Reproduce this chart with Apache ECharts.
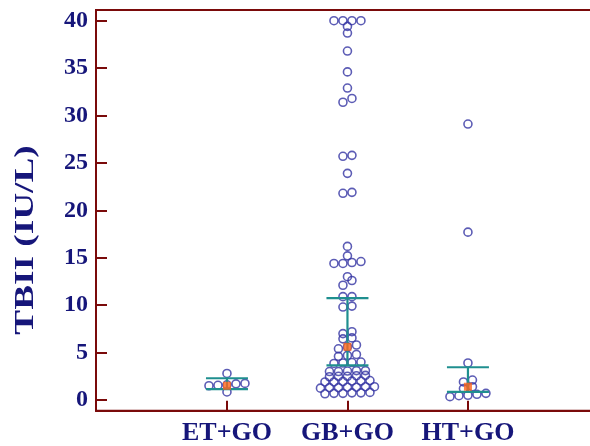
<!DOCTYPE html>
<html>
<head>
<meta charset="utf-8">
<script src="https://cdn.jsdelivr.net/npm/echarts@6/dist/echarts.min.js"></script>
<style>html,body{margin:0;padding:0;background:#fff;}#c{width:590px;height:446px;}</style>
</head>
<body>
<div id="c"></div>
<script>
// ---- data ----
const categories = ['ET+GO', 'GB+GO', 'HT+GO'];
const etValues = [2.8, 1.5, 1.55, 1.6, 1.7, 1.75, 0.85];
const gbValues = [
  0.65, 0.7, 0.7, 0.75, 0.75, 0.8,
  1.25, 1.3, 1.3, 1.35, 1.35, 1.4, 1.4,
  1.9, 1.9, 1.95, 2.0, 2.0, 2.05,
  2.45, 2.5, 2.5, 2.55, 2.6,
  3.0, 3.0, 3.05, 3.1, 3.1,
  3.85, 3.9, 3.95, 4.0,
  4.6, 4.7, 4.8, 5.4, 5.6, 5.8, 6.45, 6.55, 7.0, 7.2,
  9.8, 9.9, 10.9, 10.9, 12.1, 12.6, 13.0,
  14.4, 14.4, 14.5, 14.6, 15.2, 16.2,
  21.8, 21.9, 23.9, 25.7, 25.8,
  31.4, 31.8, 32.9, 34.6, 36.8, 38.7, 39.4,
  40, 40, 40, 40
];
const htValues = [29.1, 17.7, 3.9, 2.1, 1.9, 1.4, 1.2, 0.7, 0.6, 0.5, 0.45, 0.35];
const medians = [1.5, 5.6, 1.4];
const lowerBars = [1.15, 3.65, 0.85];
const upperBars = [2.29, 10.74, 3.45];
const yTicks = [0, 5, 10, 15, 20, 25, 30, 35, 40];
const xTicks = [1, 2, 3];

// ---- layout / style ----
const GRID = { left: 96, top: 10, width: 504, height: 400.7 };
const XMIN = -0.087, XMAX = 4.096;
const YMIN = -1.13, YMAX = 41.13;
const PX_PER_X = GRID.width / (XMAX - XMIN);
const PX_PER_Y = GRID.height / (YMAX - YMIN);
const AXIS = '#7a0a0a';
const NAVY = '#16167a';
const DOT = '#3333a3';
const TEAL = '#1f8f8f';
const ORANGE = '#ff6419';
const FONT = '"Liberation Serif", "Times New Roman", serif';
const STEP = 9;   // horizontal spacing of side-by-side points (px)
const BIN = 5;    // values closer than this (px) share a row

// scatter-dot layout (rows of near-equal values centred on the category)
function swarm(values, center) {
  const sorted = values.slice().sort((a, b) => a - b);
  const rows = [];
  for (const v of sorted) {
    const last = rows[rows.length - 1];
    if (last && (v - last[0]) * PX_PER_Y < BIN) last.push(v);
    else rows.push([v]);
  }
  const out = [];
  rows.forEach(r => r.forEach((v, j) => {
    const off = (j - (r.length - 1) / 2) * STEP;
    out.push([center + off / PX_PER_X, v]);
  }));
  return out;
}

const groups = [etValues, gbValues, htValues];
const dots = [];
groups.forEach((g, i) => swarm(g, i + 1).forEach(p => dots.push(p)));

const chart = echarts.init(document.getElementById('c'), null, { renderer: 'canvas' });
chart.setOption({
  animation: false,
  backgroundColor: '#fff',
  grid: { left: GRID.left, top: GRID.top, width: GRID.width, height: GRID.height, outerBoundsMode: 'none', containLabel: false,
    show: true, borderColor: AXIS, borderWidth: 2, backgroundColor: 'transparent' },
  xAxis: {
    type: 'value', min: XMIN, max: XMAX,
    axisLine: { show: true, onZero: false, lineStyle: { color: AXIS, width: 2 } },
    axisTick: { show: true, inside: true, length: 10, customValues: xTicks, lineStyle: { color: AXIS, width: 2 } },
    axisLabel: { show: true, customValues: xTicks, margin: 10, color: NAVY, fontFamily: FONT, fontWeight: 'bold', fontSize: 26,
      formatter: v => categories[Math.round(v) - 1] || '' },
    splitLine: { show: false }
  },
  yAxis: {
    type: 'value', min: YMIN, max: YMAX,
    axisLine: { show: true, onZero: false, lineStyle: { color: AXIS, width: 2 } },
    axisTick: { show: true, inside: true, length: 11, customValues: yTicks, lineStyle: { color: AXIS, width: 2 } },
    axisLabel: { show: true, customValues: yTicks, margin: 8, color: NAVY, fontFamily: FONT, fontWeight: 'bold', fontSize: 24 },
    splitLine: { show: false }
  },
  graphic: [{
    type: 'text', x: 26, y: 240, rotation: Math.PI / 2, scaleX: 1.38, scaleY: 1,
    style: { text: 'TBII (IU/L)', fill: NAVY, font: 'bold 27px ' + FONT, textAlign: 'center', textVerticalAlign: 'middle' }
  }],
  series: [
    {
      type: 'scatter', data: dots, symbol: 'circle', symbolSize: 8, z: 2,
      itemStyle: { color: 'rgba(255,255,255,0)', borderColor: DOT, borderWidth: 1.6 }
    },
    {
      type: 'custom', z: 3,
      data: categories.map((c, i) => [i + 1, lowerBars[i], upperBars[i]]),
      renderItem: (params, api) => {
        const x = api.value(0);
        const lo = api.coord([x, api.value(1)]);
        const hi = api.coord([x, api.value(2)]);
        const hw = 21;
        const st = { stroke: TEAL, lineWidth: 2.2 };
        return {
          type: 'group', children: [
            { type: 'line', shape: { x1: lo[0], y1: lo[1], x2: hi[0], y2: hi[1] }, style: st },
            { type: 'line', shape: { x1: lo[0] - hw, y1: lo[1], x2: lo[0] + hw, y2: lo[1] }, style: st },
            { type: 'line', shape: { x1: hi[0] - hw, y1: hi[1], x2: hi[0] + hw, y2: hi[1] }, style: st }
          ]
        };
      }
    },
    {
      type: 'scatter', z: 4, symbol: 'rect', symbolSize: 8,
      data: medians.map((m, i) => [i + 1, m]),
      itemStyle: { color: ORANGE }
    }
  ]
});
</script>
</body>
</html>
